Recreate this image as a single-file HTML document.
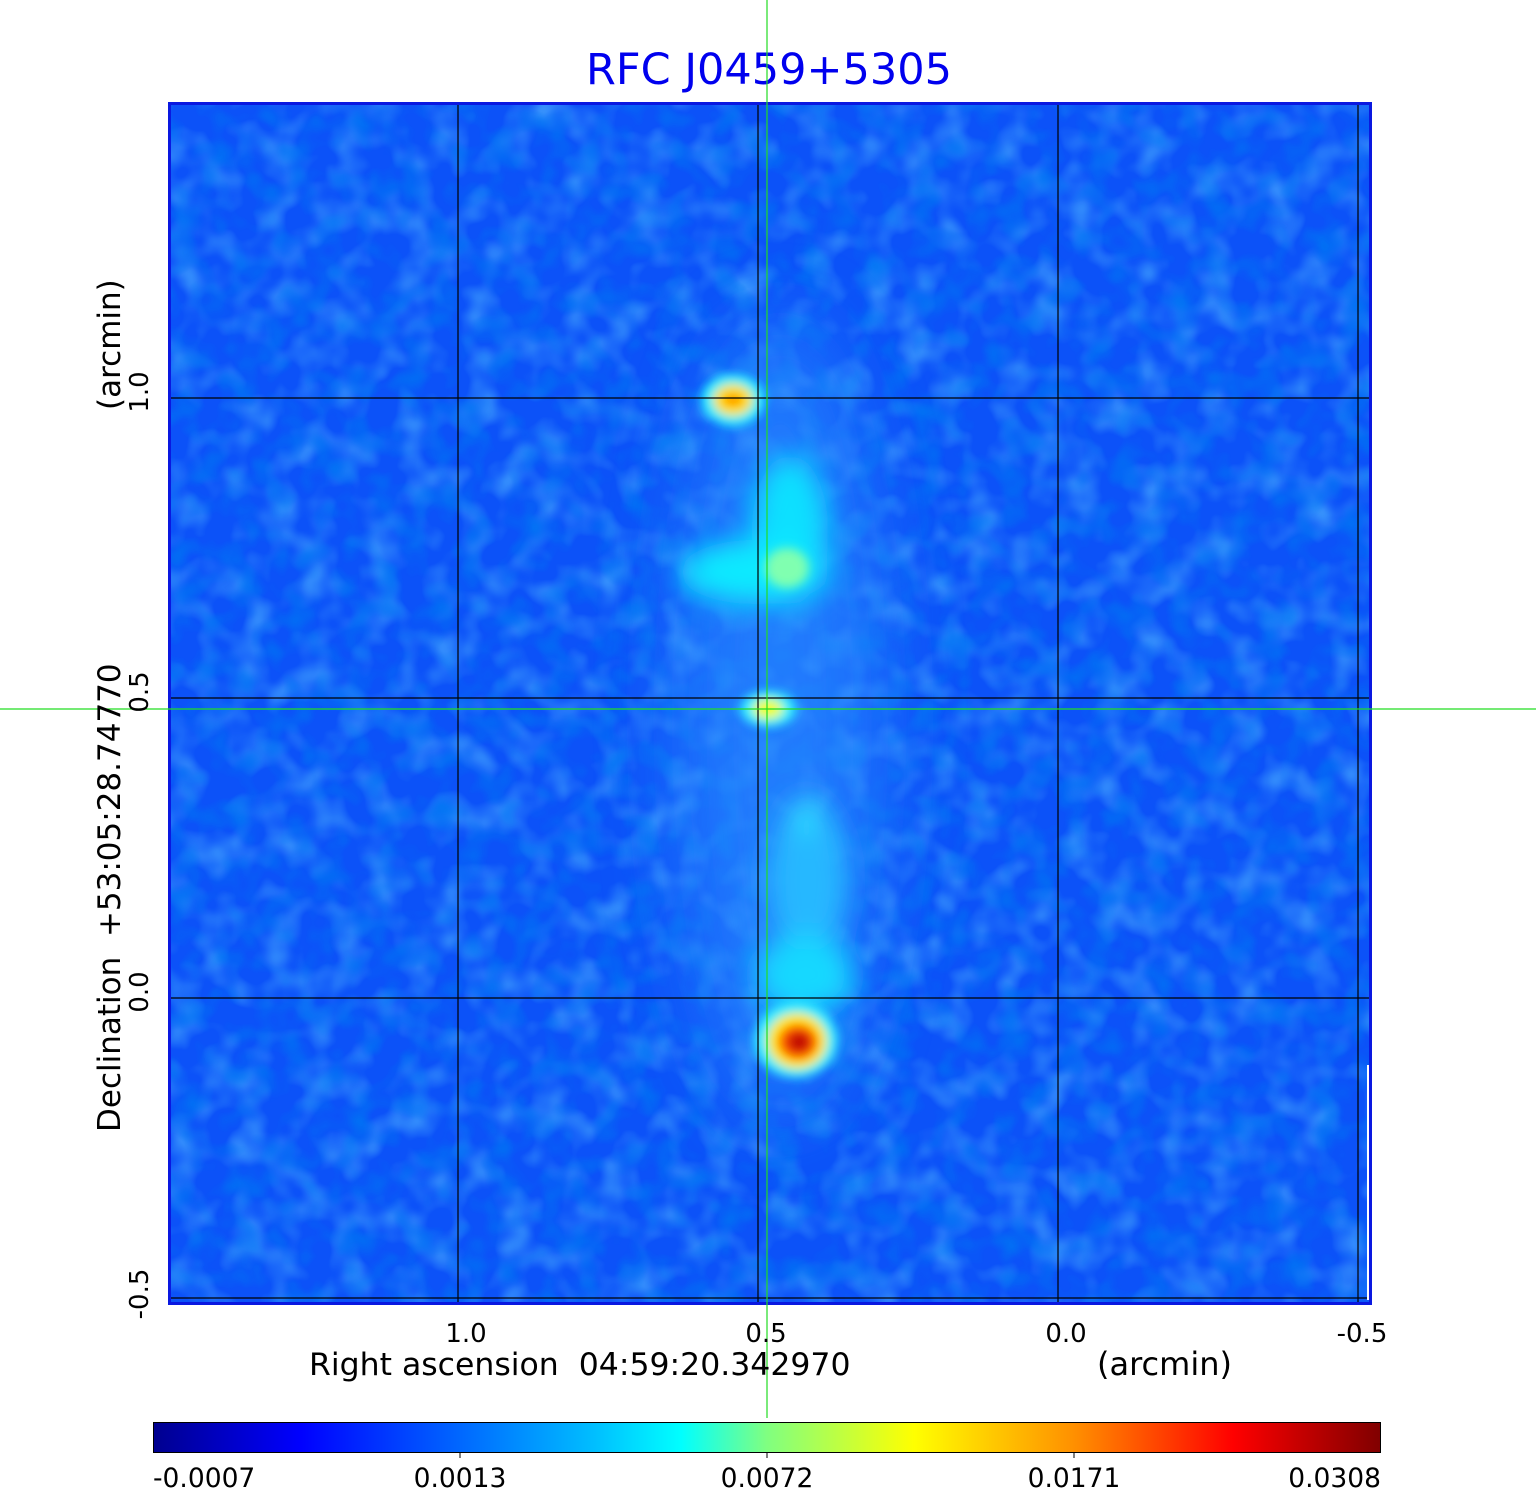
<!DOCTYPE html>
<html><head><meta charset="utf-8"><style>
body{margin:0;background:#fff;width:1536px;height:1511px;overflow:hidden}
svg{display:block}
text{font-family:"DejaVu Sans","Liberation Sans",sans-serif}
</style></head><body>
<svg width="1536" height="1511" xmlns="http://www.w3.org/2000/svg">
<defs>
<filter id="b1" x="-50%" y="-50%" width="200%" height="200%"><feGaussianBlur stdDeviation="14"/></filter>
<filter id="b2" x="-50%" y="-50%" width="200%" height="200%"><feGaussianBlur stdDeviation="5"/></filter>
<filter id="b3" x="-50%" y="-50%" width="200%" height="200%"><feGaussianBlur stdDeviation="40"/></filter>
<filter id="noiseL" x="0" y="0" width="100%" height="100%">
<feTurbulence type="fractalNoise" baseFrequency="0.03" numOctaves="2" seed="3"/>
<feColorMatrix type="matrix" values="0 0 0 0 0.1  0 0 0 0 0.55  0 0 0 0 1  0 0 0 2.2 -0.95"/>
</filter>
<filter id="noiseD" x="0" y="0" width="100%" height="100%">
<feTurbulence type="fractalNoise" baseFrequency="0.035" numOctaves="2" seed="11"/>
<feColorMatrix type="matrix" values="0 0 0 0 0  0 0 0 0 0.18  0 0 0 0 0.9  0 0 0 2.2 -0.95"/>
</filter>
<clipPath id="c"><rect x="168" y="102" width="1204" height="1203"/></clipPath>
<linearGradient id="jet" x1="0" x2="1" y1="0" y2="0">
<stop offset="0" stop-color="#00008f"/>
<stop offset="0.12" stop-color="#0000ff"/>
<stop offset="0.36" stop-color="#00bfff"/>
<stop offset="0.43" stop-color="#00ffff"/>
<stop offset="0.5" stop-color="#80ff80"/>
<stop offset="0.62" stop-color="#ffff00"/>
<stop offset="0.75" stop-color="#ff9000"/>
<stop offset="0.88" stop-color="#ff0000"/>
<stop offset="1" stop-color="#800000"/>
</linearGradient>
</defs>
<text x="769" y="84" font-size="43" fill="#0000ee" text-anchor="middle">RFC J0459+5305</text>
<g clip-path="url(#c)">
<rect x="168" y="102" width="1204" height="1203" fill="#0c52f8"/>
<rect x="168" y="102" width="1204" height="1203" filter="url(#noiseL)" opacity="0.55"/>
<rect x="168" y="102" width="1204" height="1203" filter="url(#noiseD)" opacity="0.8"/>
<g filter="url(#b3)" opacity="0.7">
<ellipse cx="780" cy="720" rx="100" ry="400" fill="#2a8cff"/>
</g>
<g filter="url(#b1)">
<ellipse cx="790" cy="530" rx="38" ry="75" fill="#10e0ff"/>
<ellipse cx="755" cy="572" rx="75" ry="32" fill="#10eaff"/>
<ellipse cx="808" cy="880" rx="40" ry="80" fill="#28b8ff"/>
<ellipse cx="805" cy="975" rx="50" ry="40" fill="#18d8ff"/>
<ellipse cx="805" cy="815" rx="12" ry="18" fill="#30e8ff"/>
</g>
<g filter="url(#b2)">
<ellipse cx="787" cy="568" rx="22" ry="20" fill="#80ffb0"/>
<ellipse cx="733" cy="400" rx="32" ry="26" fill="#20f0ff"/>
<ellipse cx="733" cy="400" rx="20" ry="16" fill="#ffe000"/>
<ellipse cx="733" cy="400" rx="10" ry="5" fill="#ff8000"/>
<ellipse cx="768" cy="709" rx="28" ry="18" fill="#30f0ff"/>
<ellipse cx="768" cy="709" rx="15" ry="10" fill="#f0ff20"/>
<ellipse cx="796" cy="1040" rx="42" ry="38" fill="#30f0ff"/>
<ellipse cx="797" cy="1041" rx="30" ry="28" fill="#ffe800"/>
<ellipse cx="798" cy="1042" rx="20" ry="18" fill="#ff5000"/>
<ellipse cx="799" cy="1042" rx="11" ry="10" fill="#c00000"/>
</g>
<g stroke="#000" stroke-width="1.2">
<line x1="458" y1="102" x2="458" y2="1305"/><line x1="758" y1="102" x2="758" y2="1305"/>
<line x1="1058" y1="102" x2="1058" y2="1305"/><line x1="1358" y1="102" x2="1358" y2="1305"/>
<line x1="168" y1="398" x2="1372" y2="398"/><line x1="168" y1="698" x2="1372" y2="698"/>
<line x1="168" y1="998" x2="1372" y2="998"/><line x1="168" y1="1298" x2="1372" y2="1298"/>
</g>
<line x1="171" y1="1303" x2="421" y2="1303" stroke="#fff" stroke-width="2"/>
<line x1="1368" y1="1065" x2="1368" y2="1300" stroke="#fff" stroke-width="2"/>
</g>
<rect x="169.5" y="103.5" width="1201" height="1200" fill="none" stroke="#0a18e0" stroke-width="3"/>
<line x1="767" y1="0" x2="767" y2="1418" stroke="#22dd22" stroke-width="1.2"/>
<line x1="0" y1="709" x2="1536" y2="709" stroke="#22dd22" stroke-width="1.2"/>
<g font-size="26" fill="#000" text-anchor="middle">
<text x="466" y="1342">1.0</text><text x="766" y="1342">0.5</text>
<text x="1066" y="1342">0.0</text><text x="1362" y="1342">-0.5</text>
</g>
<text x="309" y="1375" font-size="31.5">Right ascension&#160;&#160;04:59:20.342970</text>
<text x="1097" y="1375" font-size="32">(arcmin)</text>
<g font-size="26" text-anchor="middle">
<text transform="translate(148,392) rotate(-90)">1.0</text>
<text transform="translate(148,692) rotate(-90)">0.5</text>
<text transform="translate(148,992) rotate(-90)">0.0</text>
<text transform="translate(148,1294) rotate(-90)">-0.5</text>
</g>
<text transform="translate(120,1132) rotate(-90)" font-size="31">Declination&#160;&#160;+53:05:28.74770</text>
<text transform="translate(120,410) rotate(-90)" font-size="31">(arcmin)</text>
<rect x="153.5" y="1422.5" width="1227" height="30" fill="url(#jet)" stroke="#000" stroke-width="1"/>
<g stroke="#000" stroke-width="1"><line x1="460" y1="1453" x2="460" y2="1458"/><line x1="767" y1="1453" x2="767" y2="1458"/><line x1="1074" y1="1453" x2="1074" y2="1458"/></g>
<g font-size="26.5">
<text x="153" y="1487">-0.0007</text>
<text x="460" y="1487" text-anchor="middle">0.0013</text>
<text x="767" y="1487" text-anchor="middle">0.0072</text>
<text x="1074" y="1487" text-anchor="middle">0.0171</text>
<text x="1381" y="1487" text-anchor="end">0.0308</text>
</g>
</svg>
</body></html>
